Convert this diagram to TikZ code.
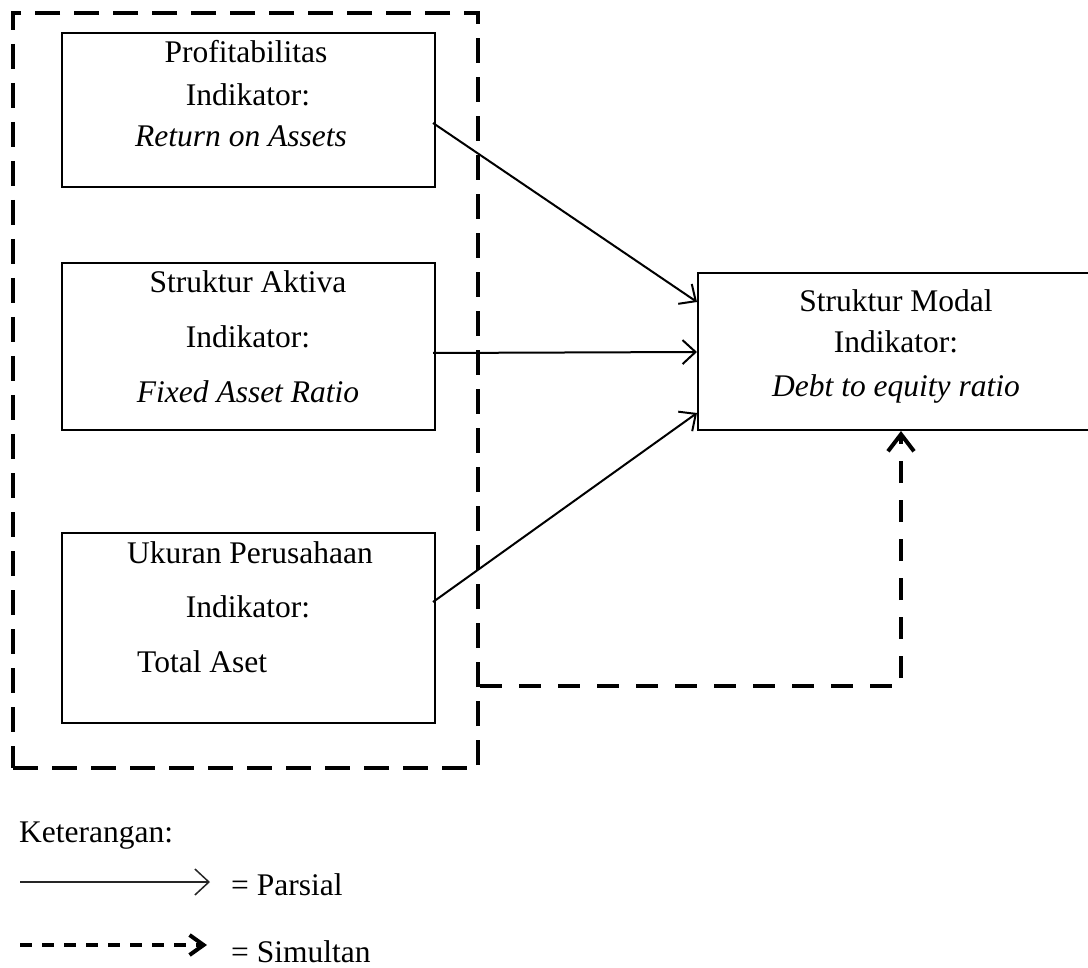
\documentclass[tikz,border=0pt]{standalone}
\usepackage{fontspec}
\setmainfont{Liberation Serif}
\usetikzlibrary{arrows.meta}
\begin{document}
\begin{tikzpicture}[x=1pt,y=-1pt,font=\fontsize{31.5}{38}\selectfont,
  box/.style={draw,line width=2pt,minimum width=373pt,inner sep=0pt},
  lbl/.style={anchor=base,inner sep=0pt},
  outerbox/.style={draw,line width=4pt,dash pattern=on 25pt off 14pt,minimum width=465pt,minimum height=755pt,inner sep=0pt},
  parr/.style={line width=2pt,-{Straight Barb[length=13pt,width=24pt]}},
  simarr/.style={line width=4pt,dash pattern=on 22pt off 17pt,-{Straight Barb[length=17pt,width=26pt]}},
  legpar/.style={line width=1.5pt,draw=black!85,-{Straight Barb[length=14pt,width=26pt]}},
  legsim/.style={line width=4pt,dash pattern=on 12pt off 10pt,-{Straight Barb[length=14pt,width=20pt]}}
]
\useasboundingbox (0,0) rectangle (1088,968);

% outer dashed frame
\node[outerbox] (outer) at (245.5,390.5) {};

% boxes
\node[box,minimum height=154pt] (b1) at (248.5,110) {};
\node[box,minimum height=167pt] (b2) at (248.5,346.5) {};
\node[box,minimum height=190pt] (b3) at (248.5,628) {};
\node[box,minimum width=402pt,minimum height=157pt] (b4) at (899,351.5) {};

% texts box 1
\node[lbl] (t1a) at (246,63) {Profitabilitas};
\node[lbl] (t1b) at (248,106) {Indikator:};
\node[lbl] (t1c) at (241,147) {\textit{Return on Assets}};
% texts box 2
\node[lbl] (t2a) at (248,293) {Struktur Aktiva};
\node[lbl] (t2b) at (248,348) {Indikator:};
\node[lbl] (t2c) at (248,403) {\textit{Fixed Asset Ratio}};
% texts box 3
\node[lbl] (t3a) at (250,563) {Ukuran Perusahaan};
\node[lbl] (t3b) at (248,617) {Indikator:};
\node[lbl,anchor=base west] (t3c) at (137,672) {Total Aset};
% texts box 4
\node[lbl] (t4a) at (896,312) {Struktur Modal};
\node[lbl] (t4b) at (896,353) {Indikator:};
\node[lbl] (t4c) at (896,397) {\textit{Debt to equity ratio}};

% partial arrows
\draw[parr] ([xshift=-3pt]b1.east |- 0,123) -- (b4.west |- 0,302);
\draw[parr] ([xshift=-3pt]b2.east |- 0,353) -- (b4.west |- 0,352);
\draw[parr] ([xshift=-3pt]b3.east |- 0,602) -- (b4.west |- 0,413);

% simultaneous arrow
\coordinate (sc) at (901,686);
\draw[simarr] (outer.east |- sc) -- (sc) -- (b4.south -| sc);

% legend
\node[lbl,anchor=base west] (ket) at (19,842) {Keterangan:};
\coordinate (p1) at (20,882);
\coordinate (p2) at (210,882);
\draw[legpar] (p1) -- (p2);
\node[lbl,anchor=base west] (lp) at (231,895) {= Parsial};
\coordinate (s1) at (20,945);
\coordinate (s2) at (207,945);
\draw[legsim] (s1) -- (s2);
\node[lbl,anchor=base west] (ls) at (231,962) {= Simultan};
\end{tikzpicture}
\end{document}
